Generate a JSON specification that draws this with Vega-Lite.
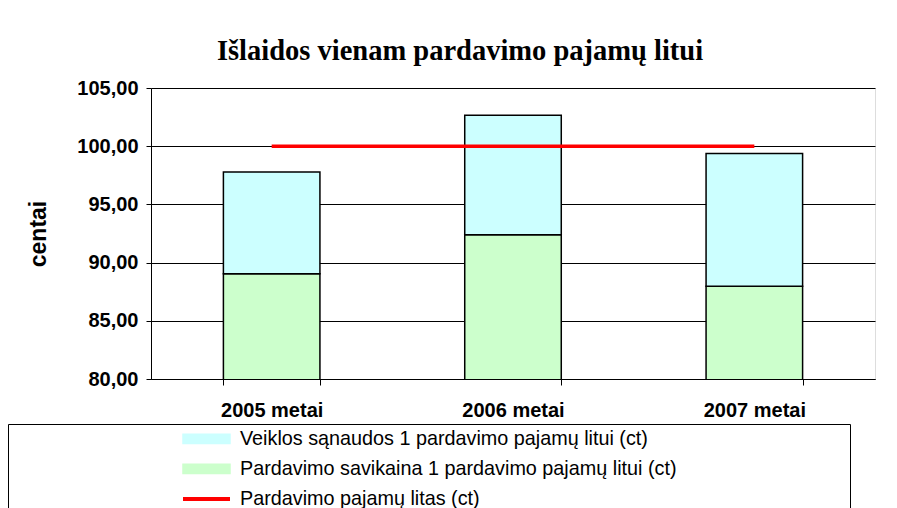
{
  "$schema": "https://vega.github.io/schema/vega-lite/v6.json",
  "width": 724,
  "height": 291,
  "autosize": {"type": "none"},
  "padding": {"left": 151, "top": 88, "right": 22, "bottom": 129},
  "background": "white",
  "title": {"text": "Išlaidos vienam pardavimo pajamų litui", "font": "Liberation Serif", "fontSize": 28.5, "fontWeight": "bold", "color": "black", "anchor": "middle", "dx": -53, "offset": 13},
  "datasets": {
    "bars": [
      {"year": "2005 metai", "series": "Pardavimo savikaina 1 pardavimo pajamų litui (ct)", "value": 89.05},
      {"year": "2005 metai", "series": "Veiklos sąnaudos 1 pardavimo pajamų litui (ct)", "value": 8.73},
      {"year": "2006 metai", "series": "Pardavimo savikaina 1 pardavimo pajamų litui (ct)", "value": 92.40},
      {"year": "2006 metai", "series": "Veiklos sąnaudos 1 pardavimo pajamų litui (ct)", "value": 10.25},
      {"year": "2007 metai", "series": "Pardavimo savikaina 1 pardavimo pajamų litui (ct)", "value": 87.96},
      {"year": "2007 metai", "series": "Veiklos sąnaudos 1 pardavimo pajamų litui (ct)", "value": 11.42}
    ],
    "line": [
      {"year": "2005 metai", "series": "Pardavimo pajamų litas (ct)", "value": 100},
      {"year": "2006 metai", "series": "Pardavimo pajamų litas (ct)", "value": 100},
      {"year": "2007 metai", "series": "Pardavimo pajamų litas (ct)", "value": 100}
    ]
  },
  "config": {
    "legend": {
      "orient": "none", "legendX": -143, "legendY": 336, "direction": "vertical",
      "titleOrient": "right", "titlePadding": 169,
      "strokeColor": "black", "padding": 5, "symbolOffset": 183.6,
      "labelFont": "Liberation Sans", "labelFontSize": 19.8, "labelColor": "black", "labelOffset": 23.6, "labelLimit": 0, "rowPadding": 9,
      "symbolSize": 2209, "symbolStrokeWidth": 1.5, "symbolStrokeColor": "black"
    }
  },
  "layer": [
    {
      "data": {"name": "bars"},
      "mark": {"type": "bar", "stroke": "black", "strokeWidth": 1.5, "clip": true},
      "encoding": {
        "x": {
          "field": "year", "type": "nominal", "title": null,
          "scale": {"paddingInner": 0.6, "paddingOuter": 0.3},
          "axis": {"domain": true, "domainColor": "black", "ticks": true, "tickBand": "extent", "tickSize": 6, "tickColor": "black", "labelFont": "Liberation Sans", "labelFontSize": 20, "labelFontWeight": "bold", "labelColor": "black", "labelPadding": 15, "labelAngle": 0, "grid": false}
        },
        "y": {
          "field": "value", "type": "quantitative", "stack": "zero", "title": "centai",
          "scale": {"domain": [80, 105], "nice": false, "zero": false},
          "axis": {"values": [80, 85, 90, 95, 100, 105], "labelExpr": "replace(format(datum.value, '.2f'), '.', ',')", "labelFont": "Liberation Sans", "labelFontSize": 20, "labelFontWeight": "bold", "labelColor": "black", "labelPadding": 8, "tickSize": 5, "tickColor": "black", "domainColor": "black", "grid": true, "gridColor": "black", "gridOpacity": 1, "titleFont": "Liberation Sans", "titleFontSize": 23, "titleFontWeight": "bold", "titleColor": "black", "titlePadding": 26}
        },
        "color": {
          "field": "series", "type": "nominal",
          "scale": {"domain": ["Veiklos sąnaudos 1 pardavimo pajamų litui (ct)", "Pardavimo savikaina 1 pardavimo pajamų litui (ct)", "Pardavimo pajamų litas (ct)"], "range": ["#CCFFFF", "#CCFFCC", "#FF0000"]},
          "legend": {
            "title": " ",
            "encode": {
              "symbols": {
                "update": {
                  "shape": {"signal": "datum.value === 'Pardavimo pajamų litas (ct)' ? 'stroke' : 'M-1,-0.2H1V0.2H-1Z'"},
                  "fill": {"signal": "datum.value === 'Pardavimo pajamų litas (ct)' ? 'transparent' : scale('color', datum.value)"},
                  "stroke": {"signal": "datum.value === 'Pardavimo pajamų litas (ct)' ? '#FF0000' : 'black'"},
                  "strokeWidth": {"signal": "datum.value === 'Pardavimo pajamų litas (ct)' ? 4 : 1.5"},
                  "opacity": {"value": 1}
                }
              }
            }
          }
        },
        "order": {"field": "series", "sort": "ascending"}
      }
    },
    {
      "data": {"name": "line"},
      "mark": {"type": "line", "strokeWidth": 3.5},
      "encoding": {
        "x": {"field": "year", "type": "nominal"},
        "y": {"field": "value", "type": "quantitative"},
        "color": {"field": "series", "type": "nominal", "legend": null}
      }
    }
  ]
}
